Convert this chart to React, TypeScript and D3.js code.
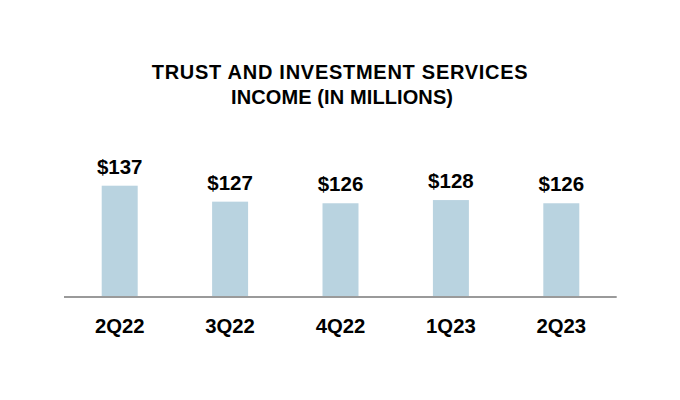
import React from "react";
import * as d3 from "d3";

const categories = ["2Q22", "3Q22", "4Q22", "1Q23", "2Q23"];
const values = [137, 127, 126, 128, 126];
const valueLabels = ["$137", "$127", "$126", "$128", "$126"];
const titleLines = ["TRUST AND INVESTMENT SERVICES", "INCOME (IN MILLIONS)"];
const yDomain = [67.6, 137];

const W = 680;
const H = 400;
const FONT = "'Liberation Sans', Arial, Helvetica, sans-serif";

export default function App() {
  const x = d3
    .scaleBand<string>()
    .domain(categories)
    .range([64.5, 616.5])
    .paddingInner(0.674)
    .paddingOuter(0.337);
  const y = d3.scaleLinear().domain(yDomain).range([296.5, 185.7]);
  const base = y(yDomain[0]);

  return (
    <svg
      width={W}
      height={H}
      viewBox={`0 0 ${W} ${H}`}
      style={{ position: "absolute", left: 0, top: 0, background: "#fff" }}
    >
      <rect x={0} y={0} width={W} height={H} fill="#fff" />
      <text
        x={339.7}
        y={78.5}
        textAnchor="middle"
        fontFamily={FONT}
        fontWeight="bold"
        fontSize={20}
        fill="#000"
        textLength={376}
        lengthAdjust="spacing"
      >
        {titleLines[0]}
      </text>
      <text
        x={342}
        y={104}
        textAnchor="middle"
        fontFamily={FONT}
        fontWeight="bold"
        fontSize={20}
        fill="#000"
        textLength={222}
        lengthAdjust="spacing"
      >
        {titleLines[1]}
      </text>
      {categories.map((c, i) => (
        <g key={c}>
          <rect
            x={x(c)!}
            y={y(values[i])}
            width={x.bandwidth()}
            height={base - y(values[i])}
            fill="#B9D3E0"
          />
          <text
            x={x(c)! + x.bandwidth() / 2}
            y={y(values[i]) - 12}
            textAnchor="middle"
            fontFamily={FONT}
            fontWeight="bold"
            fontSize={20.5}
            fill="#000"
          >
            {valueLabels[i]}
          </text>
          <text
            x={x(c)! + x.bandwidth() / 2}
            y={333}
            textAnchor="middle"
            fontFamily={FONT}
            fontWeight="bold"
            fontSize={20.3}
            fill="#000"
          >
            {c}
          </text>
        </g>
      ))}
      <line x1={64} x2={616.7} y1={297} y2={297} stroke="#9a9a9a" strokeWidth={2} />
    </svg>
  );
}
